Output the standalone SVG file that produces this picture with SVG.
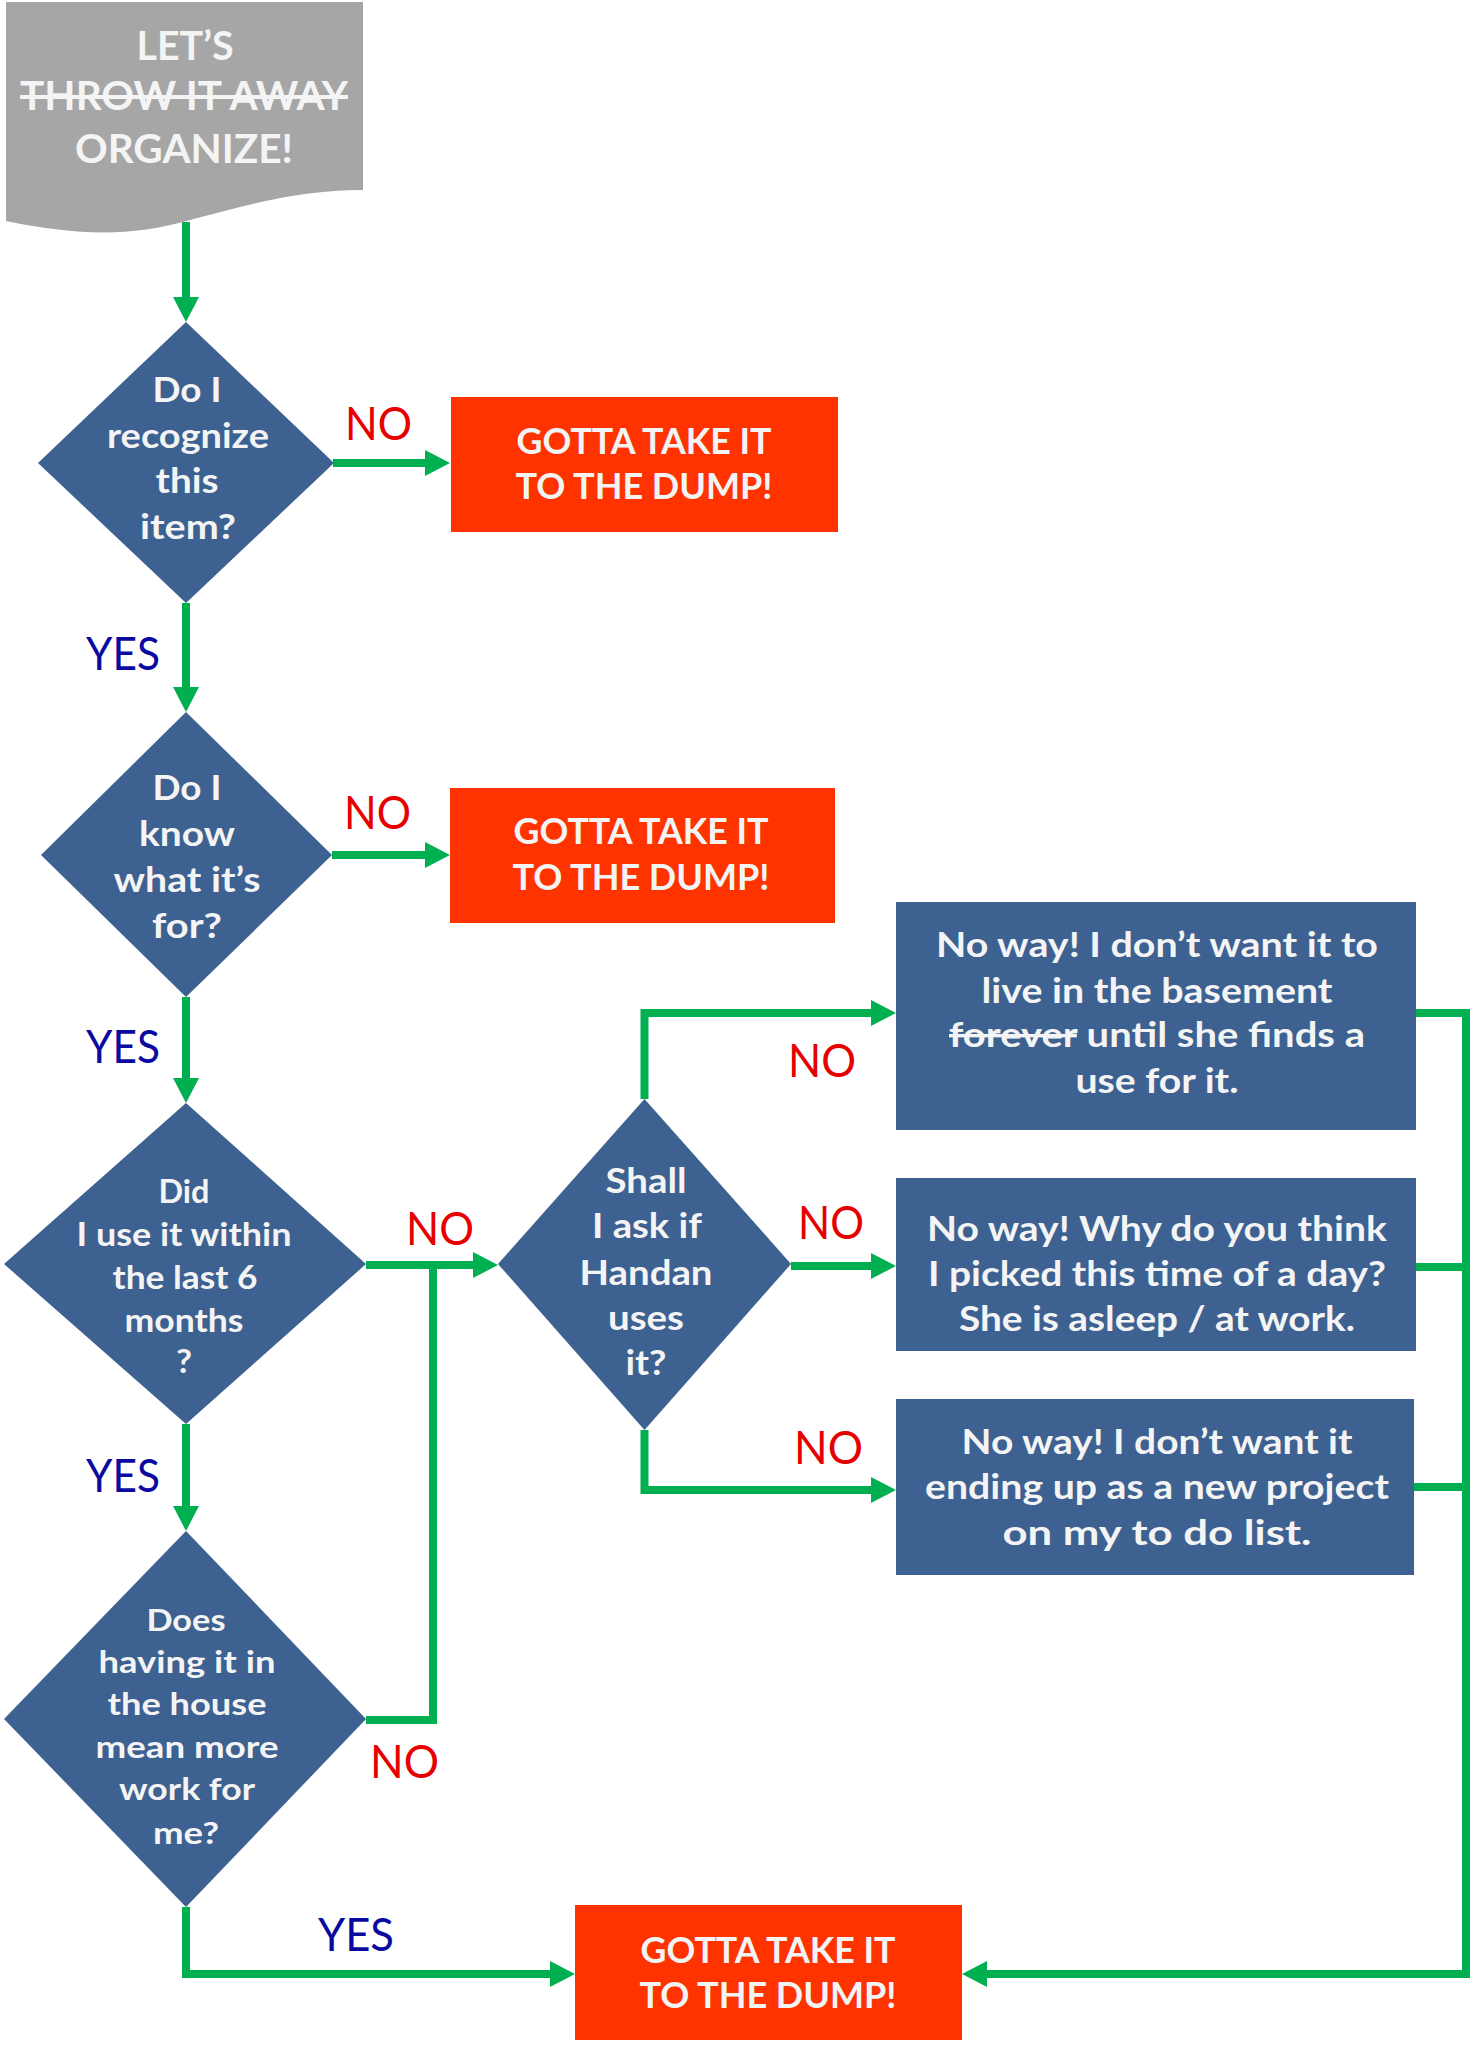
<svg xmlns="http://www.w3.org/2000/svg" width="1480" height="2048" viewBox="0 0 1480 2048">
<style>
.bg{fill:#ffffff}
.dia{fill:#3d6190}
.box{fill:#3d6190}
.dump{fill:#ff3300}
.doc{fill:#a6a6a6}
.t{font-family:Lato,"Open Sans","Liberation Sans",sans-serif;font-weight:700;fill:#f4f4f4;text-anchor:middle}
.no{font-family:Lato,"Open Sans","Liberation Sans",sans-serif;font-weight:400;fill:#e60000;font-size:46px}
.yes{font-family:Lato,"Open Sans","Liberation Sans",sans-serif;font-weight:400;fill:#0a0aa0;font-size:46px}
.c{fill:none;stroke:#00b050;stroke-width:8;stroke-linejoin:miter;stroke-linecap:butt}
</style>
<defs>
<marker id="ah" markerUnits="userSpaceOnUse" markerWidth="26" markerHeight="26" viewBox="0 0 25 26" refX="1" refY="13" orient="auto">
<path d="M0,0 L25,13 L0,26 Z" fill="#00b050"/>
</marker>
</defs>
<rect class="bg" x="0" y="0" width="1480" height="2048"/>

<g id="connectors">
<path class="c" d="M186,222 V298" marker-end="url(#ah)"/>
<path class="c" d="M333,463 H426" marker-end="url(#ah)"/>
<path class="c" d="M186,603 V688" marker-end="url(#ah)"/>
<path class="c" d="M332,855 H426" marker-end="url(#ah)"/>
<path class="c" d="M186,997 V1079" marker-end="url(#ah)"/>
<path class="c" d="M366,1265 H474" marker-end="url(#ah)"/>
<path class="c" d="M366,1720 H433 V1265"/>
<path class="c" d="M186,1424 V1507" marker-end="url(#ah)"/>
<path class="c" d="M644.5,1099 V1013 H872" marker-end="url(#ah)"/>
<path class="c" d="M791,1266 H872" marker-end="url(#ah)"/>
<path class="c" d="M644.5,1430 V1490 H872" marker-end="url(#ah)"/>
<path class="c" d="M1416,1013 H1466 V1974 H986" marker-end="url(#ah)"/>
<path class="c" d="M1416,1267 H1466"/>
<path class="c" d="M1414,1487 H1466"/>
<path class="c" d="M186,1907 V1974 H551" marker-end="url(#ah)"/>
</g>

<g id="labels">
<text class="no" x="345" y="440" textLength="67" lengthAdjust="spacingAndGlyphs">NO</text>
<text class="no" x="344" y="829" textLength="67" lengthAdjust="spacingAndGlyphs">NO</text>
<text class="no" x="406" y="1245" textLength="68" lengthAdjust="spacingAndGlyphs">NO</text>
<text class="no" x="788" y="1077" textLength="68" lengthAdjust="spacingAndGlyphs">NO</text>
<text class="no" x="798" y="1239" textLength="66" lengthAdjust="spacingAndGlyphs">NO</text>
<text class="no" x="794" y="1464" textLength="69" lengthAdjust="spacingAndGlyphs">NO</text>
<text class="no" x="370" y="1778" textLength="69" lengthAdjust="spacingAndGlyphs">NO</text>
<text class="yes" x="86" y="670" textLength="74" lengthAdjust="spacingAndGlyphs">YES</text>
<text class="yes" x="86" y="1063" textLength="74" lengthAdjust="spacingAndGlyphs">YES</text>
<text class="yes" x="86" y="1492" textLength="74" lengthAdjust="spacingAndGlyphs">YES</text>
<text class="yes" x="318" y="1951" textLength="76" lengthAdjust="spacingAndGlyphs">YES</text>
</g>

<g id="start">
<path class="doc" d="M6,2 H363 V190 C300,190 250,204 190,220 C130,237 80,236 6,221 Z"/>
<text class="t" font-size="40" x="185" y="60" textLength="97" lengthAdjust="spacingAndGlyphs">LET’S</text>
<text class="t" font-size="40" x="184" y="110" textLength="328" lengthAdjust="spacingAndGlyphs" style="text-decoration:line-through">THROW IT AWAY</text>
<text class="t" font-size="40" x="184" y="163" textLength="218" lengthAdjust="spacingAndGlyphs">ORGANIZE!</text>
</g>

<g id="q-recognize">
<polygon class="dia" points="186,322 334,463 186,603 38,463"/>
<text class="t" font-size="34" x="187" y="402" textLength="69" lengthAdjust="spacingAndGlyphs">Do I</text>
<text class="t" font-size="34" x="188" y="448" textLength="162" lengthAdjust="spacingAndGlyphs">recognize</text>
<text class="t" font-size="34" x="187" y="493" textLength="63" lengthAdjust="spacingAndGlyphs">this</text>
<text class="t" font-size="34" x="188" y="539" textLength="96" lengthAdjust="spacingAndGlyphs">item?</text>
</g>

<g id="dump1">
<rect class="dump" x="451" y="397" width="387" height="135"/>
<text class="t" font-size="36" x="644" y="454" textLength="255" lengthAdjust="spacingAndGlyphs">GOTTA TAKE IT</text>
<text class="t" font-size="36" x="644" y="499" textLength="257" lengthAdjust="spacingAndGlyphs">TO THE DUMP!</text>
</g>

<g id="q-know">
<polygon class="dia" points="186,712 332,855 186,997 41,855"/>
<text class="t" font-size="34" x="187" y="800" textLength="69" lengthAdjust="spacingAndGlyphs">Do I</text>
<text class="t" font-size="34" x="187" y="846" textLength="96" lengthAdjust="spacingAndGlyphs">know</text>
<text class="t" font-size="34" x="187" y="892" textLength="147" lengthAdjust="spacingAndGlyphs">what it’s</text>
<text class="t" font-size="34" x="187" y="938" textLength="70" lengthAdjust="spacingAndGlyphs">for?</text>
</g>

<g id="dump2">
<rect class="dump" x="450" y="788" width="385" height="135"/>
<text class="t" font-size="36" x="641" y="844" textLength="255" lengthAdjust="spacingAndGlyphs">GOTTA TAKE IT</text>
<text class="t" font-size="36" x="641" y="890" textLength="257" lengthAdjust="spacingAndGlyphs">TO THE DUMP!</text>
</g>

<g id="q-used">
<polygon class="dia" points="186,1103 366,1264 186,1424 4,1264"/>
<text class="t" font-size="32" x="184" y="1203" textLength="51" lengthAdjust="spacingAndGlyphs">Did</text>
<text class="t" font-size="32" x="184" y="1246" textLength="215" lengthAdjust="spacingAndGlyphs">I use it within</text>
<text class="t" font-size="32" x="185" y="1289" textLength="145" lengthAdjust="spacingAndGlyphs">the last 6</text>
<text class="t" font-size="32" x="184" y="1332" textLength="119" lengthAdjust="spacingAndGlyphs">months</text>
<text class="t" font-size="32" x="184" y="1373" textLength="16" lengthAdjust="spacingAndGlyphs">?</text>
</g>

<g id="q-handan">
<polygon class="dia" points="644.5,1099 791,1264 644.5,1430 498,1264"/>
<text class="t" font-size="34" x="646" y="1193" textLength="81" lengthAdjust="spacingAndGlyphs">Shall</text>
<text class="t" font-size="34" x="647" y="1238" textLength="110" lengthAdjust="spacingAndGlyphs">I ask if</text>
<text class="t" font-size="34" x="646" y="1285" textLength="133" lengthAdjust="spacingAndGlyphs">Handan</text>
<text class="t" font-size="34" x="646" y="1330" textLength="76" lengthAdjust="spacingAndGlyphs">uses</text>
<text class="t" font-size="34" x="646" y="1375" textLength="41" lengthAdjust="spacingAndGlyphs">it?</text>
</g>

<g id="q-work">
<polygon class="dia" points="186,1531 366,1719 186,1907 4,1719"/>
<text class="t" font-size="31" x="186" y="1631" textLength="79" lengthAdjust="spacingAndGlyphs">Does</text>
<text class="t" font-size="31" x="187" y="1673" textLength="177" lengthAdjust="spacingAndGlyphs">having it in</text>
<text class="t" font-size="31" x="187" y="1715" textLength="159" lengthAdjust="spacingAndGlyphs">the house</text>
<text class="t" font-size="31" x="187" y="1758" textLength="183" lengthAdjust="spacingAndGlyphs">mean more</text>
<text class="t" font-size="31" x="187" y="1800" textLength="136" lengthAdjust="spacingAndGlyphs">work for</text>
<text class="t" font-size="31" x="186" y="1844" textLength="66" lengthAdjust="spacingAndGlyphs">me?</text>
</g>

<g id="no-basement">
<rect class="box" x="896" y="902" width="520" height="228"/>
<text class="t" font-size="34" x="1157" y="957" textLength="442" lengthAdjust="spacingAndGlyphs">No way! I don’t want it to</text>
<text class="t" font-size="34" x="1157" y="1003" textLength="351" lengthAdjust="spacingAndGlyphs">live in the basement</text>
<text class="t" font-size="34" x="1157" y="1047" textLength="416" lengthAdjust="spacingAndGlyphs"><tspan style="text-decoration:line-through">forever</tspan> until  she finds a</text>
<text class="t" font-size="34" x="1157" y="1093" textLength="163" lengthAdjust="spacingAndGlyphs">use for it.</text>
</g>

<g id="no-asleep">
<rect class="box" x="896" y="1178" width="520" height="173"/>
<text class="t" font-size="34" x="1157" y="1241" textLength="460" lengthAdjust="spacingAndGlyphs">No way! Why do you think</text>
<text class="t" font-size="34" x="1157" y="1286" textLength="458" lengthAdjust="spacingAndGlyphs">I picked this time of a day?</text>
<text class="t" font-size="34" x="1157" y="1331" textLength="396" lengthAdjust="spacingAndGlyphs">She is asleep / at work.</text>
</g>

<g id="no-project">
<rect class="box" x="896" y="1399" width="518" height="176"/>
<text class="t" font-size="34" x="1157" y="1454" textLength="391" lengthAdjust="spacingAndGlyphs">No way! I don’t want it</text>
<text class="t" font-size="34" x="1157" y="1499" textLength="464" lengthAdjust="spacingAndGlyphs">ending up as a new project</text>
<text class="t" font-size="34" x="1157" y="1545" textLength="309" lengthAdjust="spacingAndGlyphs">on my to do list.</text>
</g>

<g id="dump3">
<rect class="dump" x="575" y="1905" width="387" height="135"/>
<text class="t" font-size="36" x="768" y="1963" textLength="255" lengthAdjust="spacingAndGlyphs">GOTTA TAKE IT</text>
<text class="t" font-size="36" x="768" y="2008" textLength="257" lengthAdjust="spacingAndGlyphs">TO THE DUMP!</text>
</g>
</svg>
